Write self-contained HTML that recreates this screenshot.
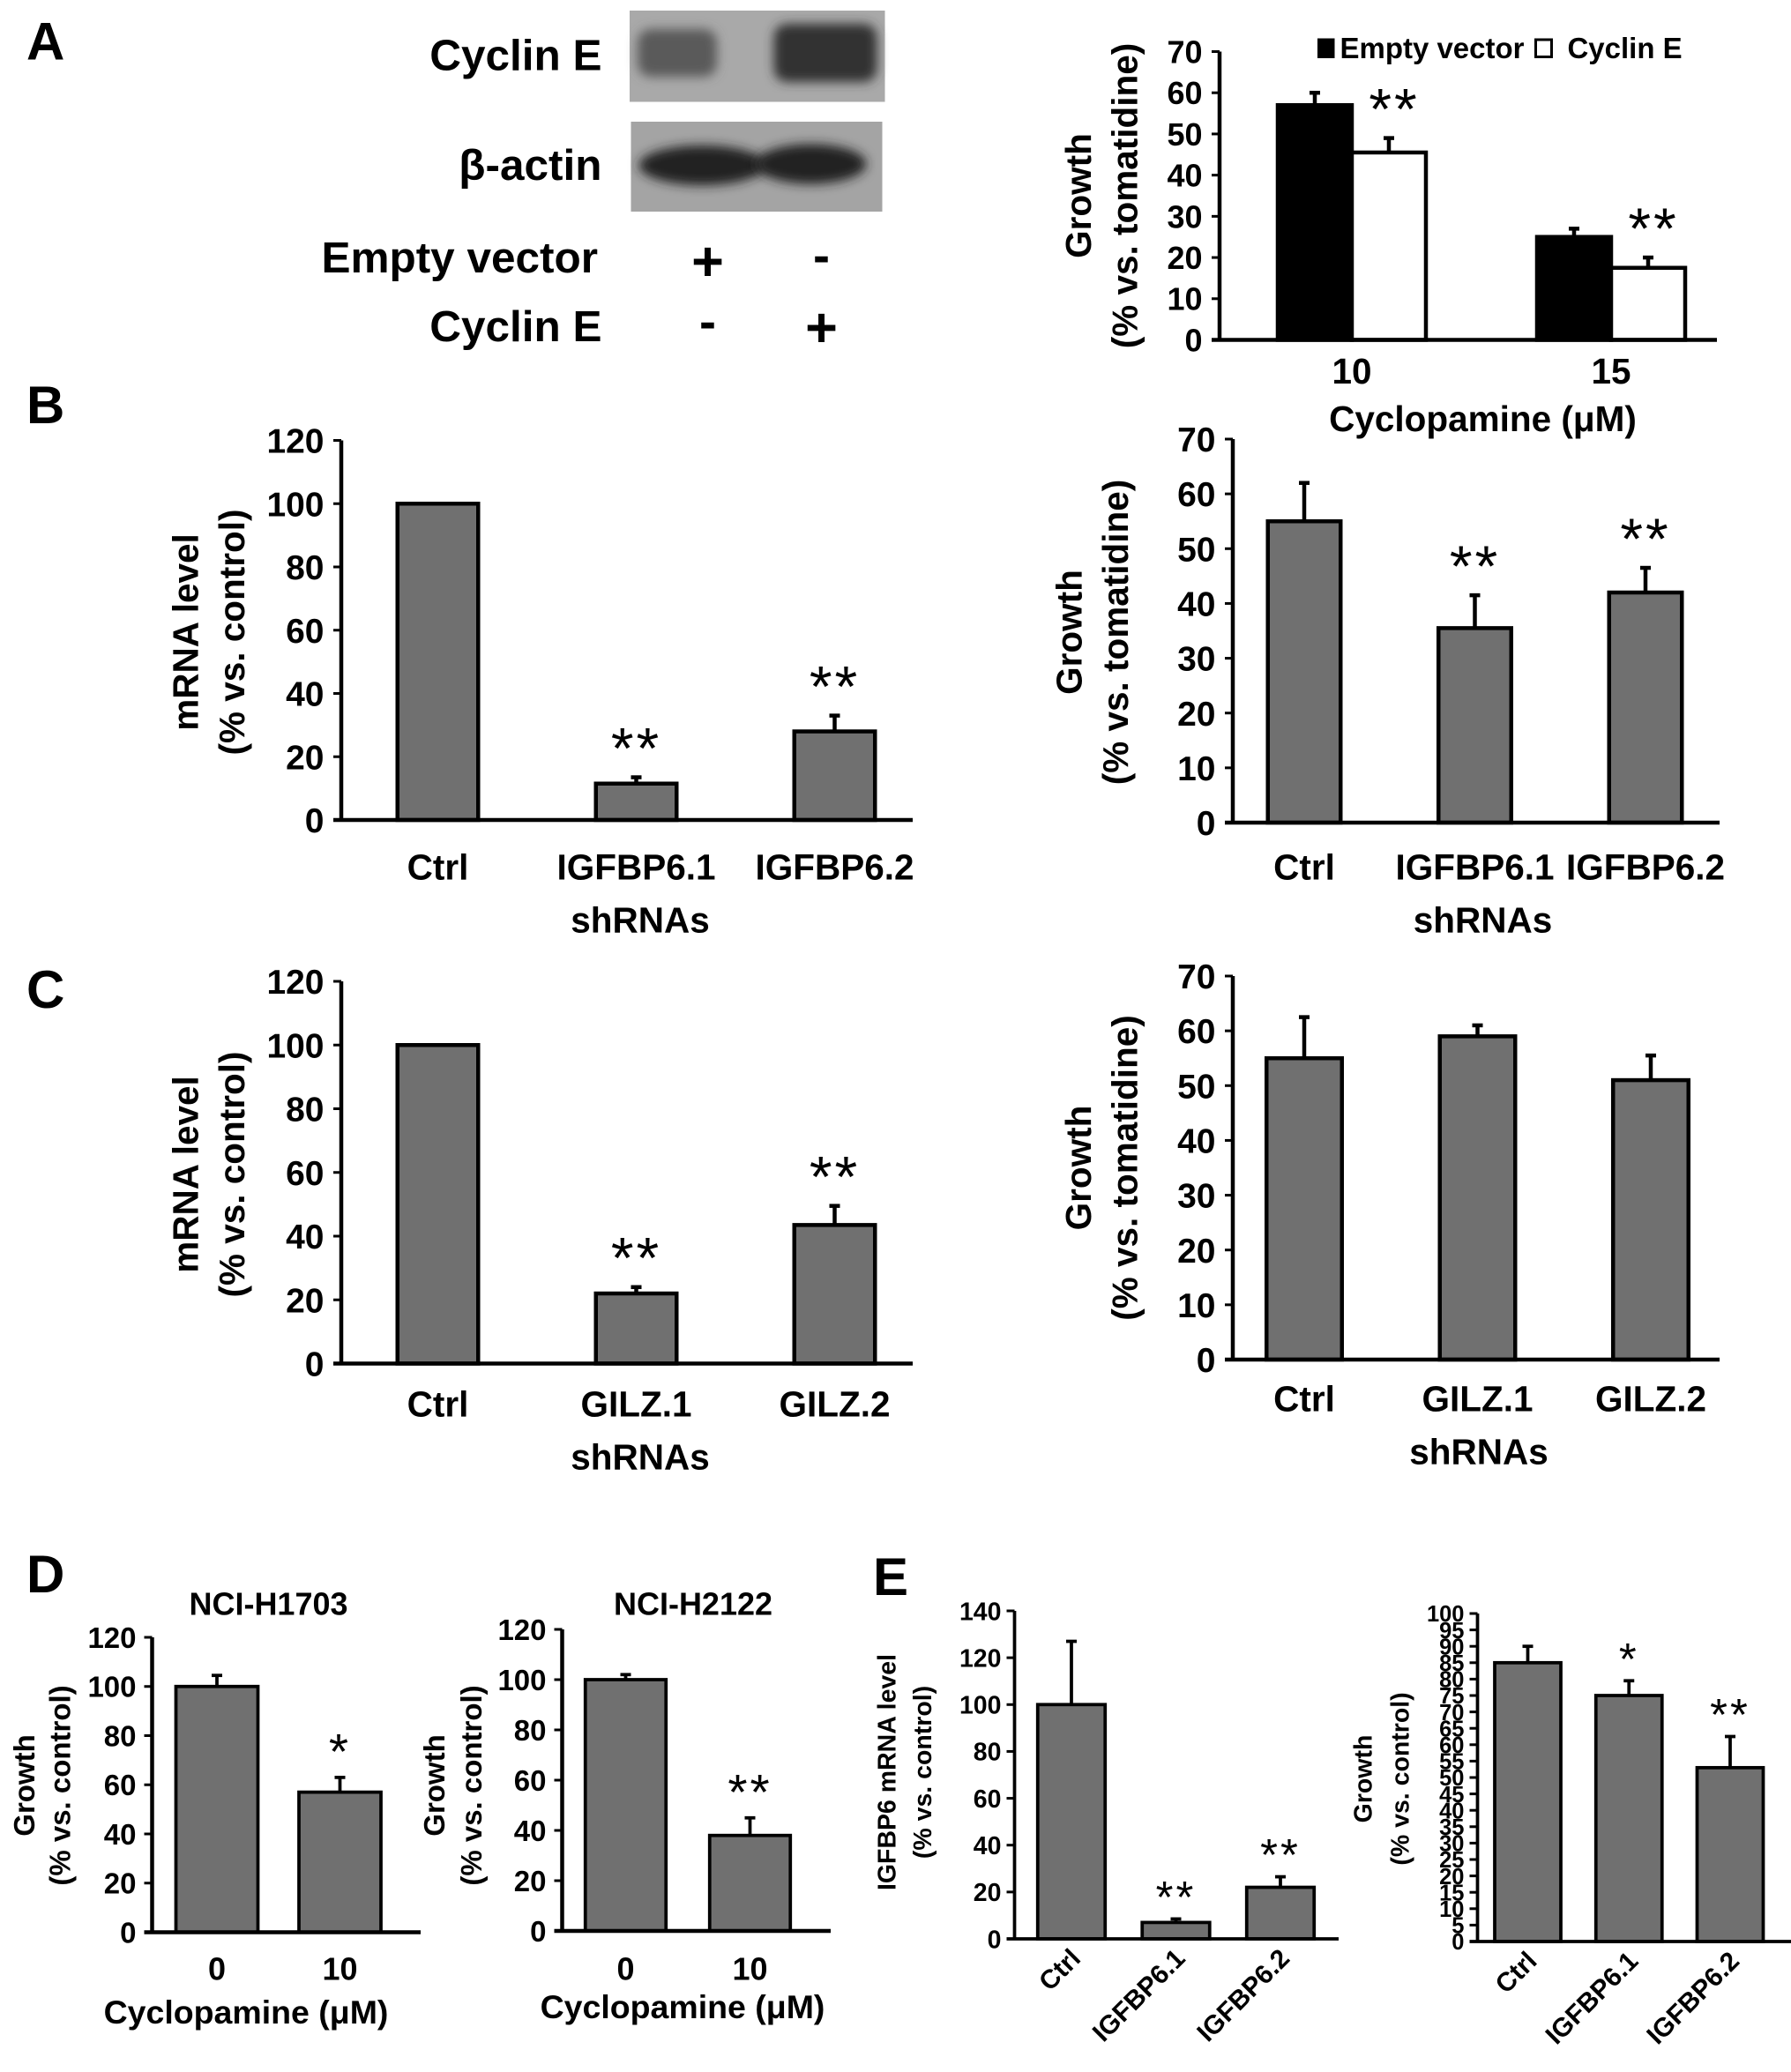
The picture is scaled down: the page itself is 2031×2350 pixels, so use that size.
<!DOCTYPE html>
<html><head><meta charset="utf-8"><style>
html,body{margin:0;padding:0;background:#fff;}
svg{display:block;font-family:"Liberation Sans",Arial,sans-serif;font-weight:bold;}
</style></head><body>
<svg id="fig" width="2031" height="2350" viewBox="0 0 1354 1566.67" xmlns="http://www.w3.org/2000/svg">
<defs>
<filter id="bl" x="-20%" y="-50%" width="140%" height="200%"><feGaussianBlur stdDeviation="4"/></filter>
</defs>
<rect width="1354" height="1567" fill="#fff"/>
<g font-size="40">
<text x="20" y="45">A</text>
<text x="20" y="320">B</text>
<text x="20" y="762">C</text>
<text x="20" y="1204">D</text>
<text x="660" y="1206">E</text>
</g>
<g font-size="33">
<text x="455" y="53" text-anchor="end">Cyclin E</text>
<rect x="476" y="8" width="193" height="69" fill="#a9a9a9"/>
<rect x="482" y="22" width="60" height="36" rx="10" fill="#5a5a5a" filter="url(#bl)"/>
<rect x="585" y="18" width="78" height="44" rx="10" fill="#333" filter="url(#bl)"/>
<text x="455" y="136" text-anchor="end">β-actin</text>
<rect x="477" y="92" width="190" height="68" fill="#a4a4a4"/>
<ellipse cx="531" cy="125" rx="48" ry="15" fill="#222" filter="url(#bl)"/>
<ellipse cx="613" cy="124" rx="42" ry="15" fill="#222" filter="url(#bl)"/>
<text x="452" y="206" text-anchor="end">Empty vector</text>
<text x="455" y="258" text-anchor="end">Cyclin E</text>
<text x="535" y="212" text-anchor="middle" font-size="42">+</text>
<text x="621" y="206" text-anchor="middle" font-size="38">-</text>
<text x="535" y="256" text-anchor="middle" font-size="38">-</text>
<text x="621" y="262" text-anchor="middle" font-size="42">+</text>
</g>
</svg>
<script>
// ---- data arrays ----
var aCats = ["10","15"];
var aEmpty = [57, 25];
var aEmptyErr = [3, 2];
var aCyclin = [45.5, 17.5];
var aCyclinErr = [3.5, 2.5];
var aStars = ["**","**"];
var aTicks = [0,10,20,30,40,50,60,70];

var bLCats = ["Ctrl","IGFBP6.1","IGFBP6.2"];
var bLVals = [100, 11.5, 28];
var bLErr = [0, 2, 5];
var bLStars = ["","**","**"];
var bLTicks = [0,20,40,60,80,100,120];

var bRCats = ["Ctrl","IGFBP6.1","IGFBP6.2"];
var bRVals = [55, 35.5, 42];
var bRErr = [7, 6, 4.5];
var bRStars = ["","**","**"];
var bRTicks = [0,10,20,30,40,50,60,70];

var cLCats = ["Ctrl","GILZ.1","GILZ.2"];
var cLVals = [100, 22, 43.5];
var cLErr = [0, 2, 6];
var cLStars = ["","**","**"];
var cLTicks = [0,20,40,60,80,100,120];

var cRCats = ["Ctrl","GILZ.1","GILZ.2"];
var cRVals = [55, 59, 51];
var cRErr = [7.5, 2, 4.5];
var cRStars = ["","",""];
var cRTicks = [0,10,20,30,40,50,60,70];

var d1Cats = ["0","10"];
var d1Vals = [100, 57];
var d1Err = [4.5, 6];
var d1Stars = ["","*"];
var d1Ticks = [0,20,40,60,80,100,120];

var d2Cats = ["0","10"];
var d2Vals = [100, 38];
var d2Err = [2, 7];
var d2Stars = ["","**"];
var d2Ticks = [0,20,40,60,80,100,120];

var eLCats = ["Ctrl","IGFBP6.1","IGFBP6.2"];
var eLVals = [100, 7, 22];
var eLErr = [27, 1.5, 4.5];
var eLStars = ["","**","**"];
var eLTicks = [0,20,40,60,80,100,120,140];

var eRCats = ["Ctrl","IGFBP6.1","IGFBP6.2"];
var eRVals = [85, 75, 53];
var eRErr = [5, 4.5, 9.5];
var eRStars = ["","*","**"];
var eRTicks = [0,5,10,15,20,25,30,35,40,45,50,55,60,65,70,75,80,85,90,95,100];

var NS = "http://www.w3.org/2000/svg";
var fig = document.getElementById("fig");
function mk(tag, parent){ var e=document.createElementNS(NS,tag); parent.appendChild(e); return e; }
function txt(parent, x, y, s, size, anchor){
  var t=mk("text",parent); t.setAttribute("x",x); t.setAttribute("y",y);
  t.setAttribute("font-size",size); t.setAttribute("text-anchor",anchor||"middle"); t.textContent=s; return t;
}

function chart(name, L, cats, series, ticks, stars){
  var g=mk("g",fig);
  
  
  var ymax=ticks[ticks.length-1];
  function y(v){ return L.y0 - (L.y0-L.yTop)*v/ymax; }
  function cx(i){ return L.c0 + i*L.step; }
  var nS=series.length;
  for(var i=0;i<cats.length;i++){
    for(var s=0;s<nS;s++){
      var S=series[s];
      var bx = nS===1 ? cx(i)-L.bw/2 : cx(i)-L.bw + s*L.bw;
      var v=S.vals[i];
      var r=mk("rect",g);
      
      
      r.setAttribute("x",bx); r.setAttribute("y",y(v)); r.setAttribute("width",L.bw); r.setAttribute("height",L.y0-y(v));
      r.setAttribute("fill",S.fill); r.setAttribute("stroke","#000"); r.setAttribute("stroke-width",L.sw);
      var e=S.err[i];
      var ex=bx+L.bw/2;
      if(e>0){
        var ln=mk("line",g);
        
        
        ln.setAttribute("x1",ex); ln.setAttribute("x2",ex); ln.setAttribute("y1",y(v)); ln.setAttribute("y2",y(v+e));
        ln.setAttribute("stroke","#000"); ln.setAttribute("stroke-width",L.sw);
        var cap=mk("line",g);
        
        
        cap.setAttribute("x1",ex-4); cap.setAttribute("x2",ex+4); cap.setAttribute("y1",y(v+e)); cap.setAttribute("y2",y(v+e));
        cap.setAttribute("stroke","#000"); cap.setAttribute("stroke-width",L.sw);
      }
      if(stars && stars[i] && (nS===1 || s===nS-1)){
        var st=txt(g, ex + L.starDx, y(v+e)-L.starGap + L.starSize*0.62, stars[i], L.starSize);
        st.setAttribute("font-weight","normal");
        st.setAttribute("letter-spacing","2");
        
        
      }
    }
    var lbl;
    if(L.rot){
      lbl=txt(g, 0,0, cats[i], L.catSize, "end");
      lbl.setAttribute("transform","translate("+(cx(i)+8)+","+(L.y0+16)+") rotate(-45)");
    } else {
      lbl=txt(g, cx(i), L.catY, cats[i], L.catSize);
    }
    
    
  }
  var ya=mk("line",g);
  
  
  ya.setAttribute("x1",L.x0); ya.setAttribute("x2",L.x0); ya.setAttribute("y1",L.yTop); ya.setAttribute("y2",L.y0);
  ya.setAttribute("stroke","#000"); ya.setAttribute("stroke-width",L.asw);
  var xa=mk("line",g);
  
  
  xa.setAttribute("x1",L.x0-6); xa.setAttribute("x2",L.x1); xa.setAttribute("y1",L.y0); xa.setAttribute("y2",L.y0);
  xa.setAttribute("stroke","#000"); xa.setAttribute("stroke-width",L.asw);
  for(var k=0;k<ticks.length;k++){
    var tl=mk("line",g);
    
    
    tl.setAttribute("x1",L.x0-6); tl.setAttribute("x2",L.x0); tl.setAttribute("y1",y(ticks[k])); tl.setAttribute("y2",y(ticks[k]));
    tl.setAttribute("stroke","#000"); tl.setAttribute("stroke-width",2);
    var tt=txt(g, L.x0-L.tickGap, y(ticks[k])+L.tickSize*0.36, String(ticks[k]), L.tickSize, "end");
    
    
  }
  for(var j=0;j<L.yTitles.length;j++){
    var yt=txt(g,0,0,L.yTitles[j][0],L.yTitleSize);
    yt.setAttribute("transform","translate("+(L.yTitles[j][1]+L.yTitleSize*0.36)+","+L.yMid+") rotate(-90)");
    
    
  }
  if(L.xTitle){
    var xt=txt(g,L.xTitle[1],L.xTitle[2],L.xTitle[0],L.xTitleSize||L.catSize);
    
    
  }
  if(L.title){
    var ti=txt(g,L.title[1],L.title[2],L.title[0],L.titleSize);
    
    
  }
}
var GREY="#707070";
var big={sw:3,asw:3,tickSize:26,tickGap:13,catSize:27,yTitleSize:27,starSize:44,starGap:34,starDx:0};
function ext(a,b){var o={};for(var k in a)o[k]=a[k];for(var k2 in b)o[k2]=b[k2];return o;}

chart("chart-a-cyclin-e-growth", ext(big,{x0:922,x1:1298,y0:257,yTop:39,c0:1022,step:196,bw:56,catY:290,tickSize:24,
  yTitles:[["Growth",815],["(% vs. tomatidine)",850]],yMid:148,xTitle:["Cyclopamine (μM)",1121,326],starDx:4}),
  aCats,[{key:"empty-vector",vals:aEmpty,err:aEmptyErr,fill:"#000"},{key:"cyclin-e",vals:aCyclin,err:aCyclinErr,fill:"#fff"}],aTicks,aStars);

chart("chart-b-igfbp6-mrna", ext(big,{x0:258,x1:690,y0:620,yTop:333,c0:331,step:150,bw:61,catY:665,
  yTitles:[["mRNA level",140],["(% vs. control)",175]],yMid:478,xTitle:["shRNAs",484,705]}),
  bLCats,[{key:"v",vals:bLVals,err:bLErr,fill:GREY}],bLTicks,bLStars);

chart("chart-b-igfbp6-growth", ext(big,{x0:932,x1:1300,y0:622,yTop:332,c0:986,step:129,bw:55,catY:665,
  yTitles:[["Growth",808],["(% vs. tomatidine)",843]],yMid:478,xTitle:["shRNAs",1121,705]}),
  bRCats,[{key:"v",vals:bRVals,err:bRErr,fill:GREY}],bRTicks,bRStars);

chart("chart-c-gilz-mrna", ext(big,{x0:258,x1:690,y0:1031,yTop:742,c0:331,step:150,bw:61,catY:1071,
  yTitles:[["mRNA level",140],["(% vs. control)",175]],yMid:888,xTitle:["shRNAs",484,1111]}),
  cLCats,[{key:"v",vals:cLVals,err:cLErr,fill:GREY}],cLTicks,cLStars);

chart("chart-c-gilz-growth", ext(big,{x0:932,x1:1300,y0:1028,yTop:738,c0:986,step:131,bw:57,catY:1067,
  yTitles:[["Growth",815],["(% vs. tomatidine)",850]],yMid:883,xTitle:["shRNAs",1118,1107]}),
  cRCats,[{key:"v",vals:cRVals,err:cRErr,fill:GREY}],cRTicks,cRStars);

var med={sw:2.5,asw:3,tickSize:22,tickGap:12,catSize:24,xTitleSize:25,yTitleSize:22,starSize:38,starGap:30,starDx:0,titleSize:24};
chart("chart-d-nci-h1703", ext(med,{x0:115,x1:318,y0:1461,yTop:1238,c0:164,step:93,bw:62,catY:1497,
  yTitles:[["Growth",18],["(% vs. control)",45]],yMid:1350,xTitle:["Cyclopamine (μM)",186,1530],title:["NCI-H1703",203,1221]}),
  d1Cats,[{key:"v",vals:d1Vals,err:d1Err,fill:GREY}],d1Ticks,d1Stars);

chart("chart-d-nci-h2122", ext(med,{x0:425,x1:628,y0:1460,yTop:1232,c0:473,step:94,bw:61,catY:1497,
  yTitles:[["Growth",328],["(% vs. control)",356]],yMid:1350,xTitle:["Cyclopamine (μM)",516,1526],title:["NCI-H2122",524,1221]}),
  d2Cats,[{key:"v",vals:d2Vals,err:d2Err,fill:GREY}],d2Ticks,d2Stars);

var sm={sw:2.5,asw:2.5,tickSize:19,tickGap:10,catSize:20,yTitleSize:19,starSize:34,starGap:26,starDx:0,rot:true};
chart("chart-e-igfbp6-mrna", ext(sm,{x0:767,x1:1012,y0:1466,yTop:1218,c0:810,step:79,bw:51,
  yTitles:[["IGFBP6 mRNA level",670],["(% vs. control)",697]],yMid:1340}),
  eLCats,[{key:"v",vals:eLVals,err:eLErr,fill:GREY}],eLTicks,eLStars);

chart("chart-e-igfbp6-growth", ext(sm,{x0:1117,x1:1360,y0:1468,yTop:1220,c0:1155,step:76.5,bw:50,tickSize:17,
  yTitles:[["Growth",1030],["(% vs. control)",1058]],yMid:1345}),
  eRCats,[{key:"v",vals:eRVals,err:eRErr,fill:GREY}],eRTicks,eRStars);

var lg=mk("g",fig);


var l1=mk("rect",lg);


l1.setAttribute("x",996);l1.setAttribute("y",29);l1.setAttribute("width",13);l1.setAttribute("height",15);l1.setAttribute("fill","#000");
var lt1=txt(lg,1013,44,"Empty vector",22,"start");


var l2=mk("rect",lg);


l2.setAttribute("x",1161);l2.setAttribute("y",30);l2.setAttribute("width",12);l2.setAttribute("height",13);l2.setAttribute("fill","#fff");l2.setAttribute("stroke","#000");l2.setAttribute("stroke-width",2);
var lt2=txt(lg,1185,44,"Cyclin E",22,"start");


</script>
</body></html>
